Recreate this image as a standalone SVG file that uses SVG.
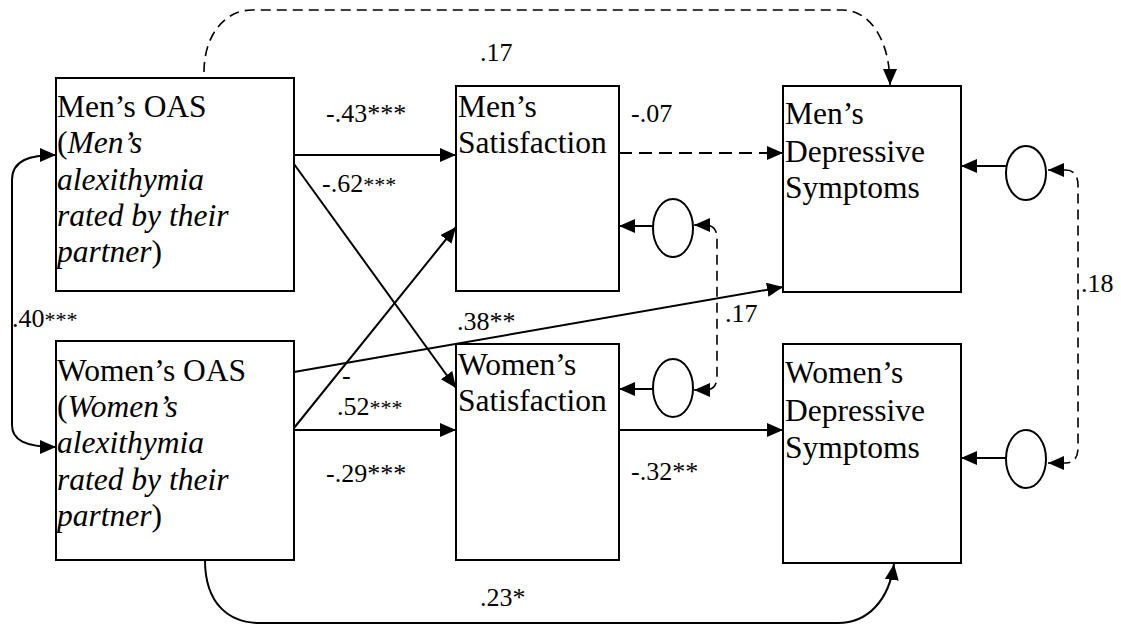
<svg xmlns="http://www.w3.org/2000/svg" width="1121" height="626" viewBox="0 0 1121 626">
<defs>
<marker id="ah" markerUnits="userSpaceOnUse" markerWidth="17" markerHeight="15" refX="16" refY="7" orient="auto-start-reverse">
<path d="M0,0 L16,7 L0,14 z" fill="#000"/>
</marker>
</defs>
<style>
.box{fill:#fff;stroke:#000;stroke-width:2}
.t{font-size:31.5px;fill:#000}
.i{font-style:italic}
.lb{font-size:26px;fill:#000}
.st{font-size:22px}
.s{fill:none;stroke:#000;stroke-width:2}
.d{fill:none;stroke:#000;stroke-width:1.6;stroke-dasharray:10,6}
.dt{fill:none;stroke:#000;stroke-width:2.2;stroke-dasharray:13,7}
.e{fill:#fff;stroke:#000;stroke-width:2}
</style>
<rect width="1121" height="626" fill="#fff"/>
<g id="connectors">
<path class="d" d="M204,72 C204,35 225,10 252,10 L842,10 C870,10 890,40 890,85" marker-end="url(#ah)"/>
<path class="s" d="M205,560 C205,605 230,623 260,623 L838,623 C868,623 889,600 894,564" marker-end="url(#ah)"/>
<path class="s" d="M56,155 C30,155 12,160 12,180 L12,425 C12,440 25,447 56,447" marker-start="url(#ah)" marker-end="url(#ah)"/>
<line class="s" x1="294" y1="155" x2="456" y2="155" marker-end="url(#ah)"/>
<line class="s" x1="294" y1="164" x2="456" y2="388" marker-end="url(#ah)"/>
<line class="s" x1="294" y1="428" x2="456" y2="227" marker-end="url(#ah)"/>
<line class="s" x1="294" y1="430" x2="456" y2="430" marker-end="url(#ah)"/>
<line class="s" x1="294" y1="372" x2="783" y2="287" marker-end="url(#ah)"/>
<line class="dt" x1="619" y1="153" x2="783" y2="153" marker-end="url(#ah)"/>
<line class="s" x1="619" y1="430" x2="783" y2="430" marker-end="url(#ah)"/>
<line class="s" x1="653" y1="226" x2="619" y2="226" marker-end="url(#ah)"/>
<line class="s" x1="653" y1="389" x2="619" y2="389" marker-end="url(#ah)"/>
<line class="s" x1="1006" y1="166" x2="961" y2="166" marker-end="url(#ah)"/>
<line class="s" x1="1006" y1="458" x2="961" y2="458" marker-end="url(#ah)"/>
<path class="d" d="M694,225 L706,225 C713,225 717,230 717,238 L717,377 C717,385 713,390 706,390 L694,390" marker-start="url(#ah)" marker-end="url(#ah)"/>
<path class="d" d="M1048,170 L1066,170 C1074,170 1078,176 1078,185 L1078,448 C1078,457 1074,463 1066,463 L1048,463" marker-start="url(#ah)" marker-end="url(#ah)"/>
</g>
<g font-family="Liberation Serif, Times New Roman, DejaVu Serif, serif">
<g id="mens-oas">
<rect class="box" x="56" y="78" width="238" height="213"/>
<text class="t" x="57" y="117">Men’s OAS</text>
<text class="t" x="57" y="153">(<tspan class="i">Men’s</tspan></text>
<text class="t i" x="57" y="190">alexithymia</text>
<text class="t i" x="57" y="226">rated by their</text>
<text class="t" x="57" y="262"><tspan class="i">partner</tspan>)</text>
</g>
<g id="womens-oas">
<rect class="box" x="56" y="341" width="238" height="219"/>
<text class="t" x="57" y="381">Women’s OAS</text>
<text class="t" x="57" y="417">(<tspan class="i">Women’s</tspan></text>
<text class="t i" x="57" y="453">alexithymia</text>
<text class="t i" x="57" y="490">rated by their</text>
<text class="t" x="57" y="526"><tspan class="i">partner</tspan>)</text>
</g>
<g id="mens-sat">
<rect class="box" x="456" y="86" width="163" height="205"/>
<text class="t" x="458" y="117">Men’s</text>
<text class="t" x="458" y="153">Satisfaction</text>
</g>
<g id="womens-sat">
<rect class="box" x="456" y="344" width="163" height="216"/>
<text class="t" x="458" y="375">Women’s</text>
<text class="t" x="458" y="411">Satisfaction</text>
</g>
<g id="mens-dep">
<rect class="box" x="783" y="86" width="178" height="206"/>
<text class="t" x="785" y="124">Men’s</text>
<text class="t" x="785" y="162">Depressive</text>
<text class="t" x="785" y="198">Symptoms</text>
</g>
<g id="womens-dep">
<rect class="box" x="783" y="344" width="178" height="219"/>
<text class="t" x="785" y="383">Women’s</text>
<text class="t" x="785" y="421">Depressive</text>
<text class="t" x="785" y="458">Symptoms</text>
</g>
<g id="residual-mens-sat"><ellipse class="e" cx="673" cy="228" rx="20" ry="29"/></g>
<g id="residual-womens-sat"><ellipse class="e" cx="673" cy="388" rx="20" ry="29"/></g>
<g id="residual-mens-dep"><ellipse class="e" cx="1026" cy="173" rx="20" ry="27"/></g>
<g id="residual-womens-dep"><ellipse class="e" cx="1026" cy="459" rx="20" ry="29"/></g>
<g id="labels">
<text class="lb" x="480" y="61">.17</text>
<text class="lb" x="326" y="122">-.43***</text>
<text class="lb" x="322" y="192">-.62<tspan class="st">***</tspan></text>
<text class="lb" x="631" y="122">-.07</text>
<text class="lb" x="12" y="327">.40<tspan class="st">***</tspan></text>
<text class="lb" x="457" y="330">.38**</text>
<text class="lb" x="725" y="322">.17</text>
<text class="lb" x="1081" y="292">.18</text>
<text class="lb" x="342" y="384">-</text>
<text class="lb" x="337" y="415">.52<tspan class="st">***</tspan></text>
<text class="lb" x="326" y="482">-.29***</text>
<text class="lb" x="631" y="480">-.32**</text>
<text class="lb" x="480" y="606">.23*</text>
</g>
</g>
</svg>
